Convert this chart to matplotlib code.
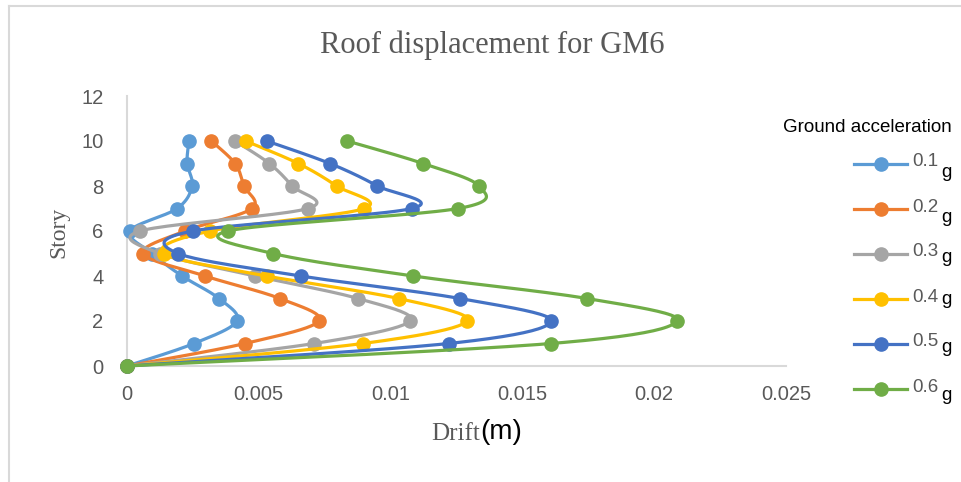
import numpy as np
import matplotlib
matplotlib.use("Agg")
import matplotlib.pyplot as plt
from matplotlib.lines import Line2D

# Story levels and inter-story drift (m) for each ground acceleration level
stories = [0, 1, 2, 3, 4, 5, 6, 7, 8, 9, 10]
drift_01g = [0, 0.00254, 0.00417, 0.00349, 0.00209, 0.00095, 0.00011, 0.0019, 0.00247, 0.00228, 0.00235]
drift_02g = [0, 0.00448, 0.00728, 0.0058, 0.00296, 0.00061, 0.0022, 0.00474, 0.00444, 0.0041, 0.0032]
drift_03g = [0, 0.0071, 0.01074, 0.00876, 0.00486, 0.00125, 0.0005, 0.00686, 0.00626, 0.0054, 0.0041]
drift_04g = [0, 0.00895, 0.0129, 0.0103, 0.0053, 0.0014, 0.00315, 0.0090, 0.00795, 0.0065, 0.0045]
drift_05g = [0, 0.0122, 0.01609, 0.01263, 0.0066, 0.00194, 0.0025, 0.0108, 0.0095, 0.0077, 0.0053]
drift_06g = [0, 0.01609, 0.02087, 0.01745, 0.01086, 0.00554, 0.00383, 0.01256, 0.01335, 0.01123, 0.00835]

series = [drift_01g, drift_02g, drift_03g, drift_04g, drift_05g, drift_06g]
labels = ["0.1", "0.2", "0.3", "0.4", "0.5", "0.6"]
colors = ["#5B9BD5", "#ED7D31", "#A5A5A5", "#FFC000", "#4472C4", "#70AD47"]

x_ticks = [0, 0.005, 0.01, 0.015, 0.02, 0.025]
x_tick_labels = ["0", "0.005", "0.01", "0.015", "0.02", "0.025"]
y_ticks = [0, 2, 4, 6, 8, 10, 12]

W, H = 962, 482
TEXT_GRAY = "#595959"
AXIS_GRAY = "#D9D9D9"
SANS = ["Liberation Sans", "DejaVu Sans"]
SERIF = ["Liberation Serif", "DejaVu Serif"]

fig = plt.figure(figsize=(W / 100, H / 100), dpi=100)
ax = fig.add_axes([127 / W, 1 - 366 / H, (786 - 127) / W, (366 - 96) / H])
ax.set_xlim(0, 0.025)
ax.set_ylim(0, 12)


def smooth(xs, ys, n=24):
    """Bezier smoothing through the points, computed in display space."""
    pts = ax.transData.transform(np.column_stack([xs, ys]))
    P = np.vstack([pts[0], pts, pts[-1]])
    out = []
    t = np.linspace(0, 1, n)[:, None]
    for i in range(1, len(P) - 2):
        p0, p1, p2, p3 = P[i - 1], P[i], P[i + 1], P[i + 2]
        c1 = p1 + (p2 - p0) / 6
        c2 = p2 - (p3 - p1) / 6
        seg = (1 - t) ** 3 * p1 + 3 * (1 - t) ** 2 * t * c1 + 3 * (1 - t) * t ** 2 * c2 + t ** 3 * p2
        out.append(seg if i == 1 else seg[1:])
    return ax.transData.inverted().transform(np.vstack(out))


for vals, col in zip(series, colors):
    curve = smooth(vals, stories)
    ax.plot(curve[:, 0], curve[:, 1], color=col, lw=2.3, clip_on=False,
            solid_capstyle="round", zorder=3)
    ax.plot(vals, stories, linestyle="none", marker="o", ms=9.5, color=col,
            clip_on=False, zorder=3)

# Axes styling
for side in ("top", "right"):
    ax.spines[side].set_visible(False)
for side in ("left", "bottom"):
    ax.spines[side].set_color(AXIS_GRAY)
    ax.spines[side].set_linewidth(1.5)
ax.set_xticks(x_ticks)
ax.set_xticklabels(x_tick_labels)
ax.set_yticks(y_ticks)
ax.tick_params(axis="both", length=0, labelcolor=TEXT_GRAY, labelsize=14.5)
ax.tick_params(axis="x", pad=14)
ax.tick_params(axis="y", pad=17)
for lab in ax.get_xticklabels() + ax.get_yticklabels():
    lab.set_fontfamily(SANS)

# Titles and axis labels
fig.text(492 / W, 1 - 45 / H, "Roof displacement for GM6", ha="center", va="center",
         fontsize=22, color=TEXT_GRAY, family=SERIF)
fig.text(59 / W, 1 - 232 / H, "Story", ha="center", va="center", rotation=90,
         fontsize=17, color=TEXT_GRAY, family=SERIF)
fig.text(480 / W, 1 - 434 / H, "Drift", ha="right", va="center",
         fontsize=18, color=TEXT_GRAY, family=SERIF)
fig.text(480 / W, 1 - 432 / H, "(m)", ha="left", va="center",
         fontsize=20, color="black", family=SANS)

# Legend
fig.text(783 / W, 1 - 127 / H, "Ground acceleration", ha="left", va="center",
         fontsize=13.5, color="black", family=SANS)
row_y = [162, 207, 252, 297, 342, 387]
g_drop = [10, 10, 6, 3, 6, 8]
for lab, col, yy, dy in zip(labels, colors, row_y, g_drop):
    fy = 1 - (yy + 2) / H
    fig.add_artist(Line2D([854 / W, 907 / W], [fy, fy], transform=fig.transFigure,
                          color=col, lw=2.3))
    fig.add_artist(Line2D([881 / W], [fy], transform=fig.transFigure, marker="o",
                          ms=9.5, color=col, linestyle="none"))
    fig.text(912 / W, 1 - yy / H, lab, ha="left", va="center", fontsize=13.5,
             color=TEXT_GRAY, family=SANS)
    fig.text(941 / W, 1 - (yy + dy) / H, "g", ha="left", va="center", fontsize=13.5,
             color="black", family=SANS)

# Chart frame
fig.add_artist(Line2D([9 / W, 1], [1 - 6 / H, 1 - 6 / H], transform=fig.transFigure,
                      color=AXIS_GRAY, lw=1.5))
fig.add_artist(Line2D([9 / W, 9 / W], [0, 1 - 6 / H], transform=fig.transFigure,
                      color=AXIS_GRAY, lw=1.5))

fig.savefig("out.png", dpi=100)
